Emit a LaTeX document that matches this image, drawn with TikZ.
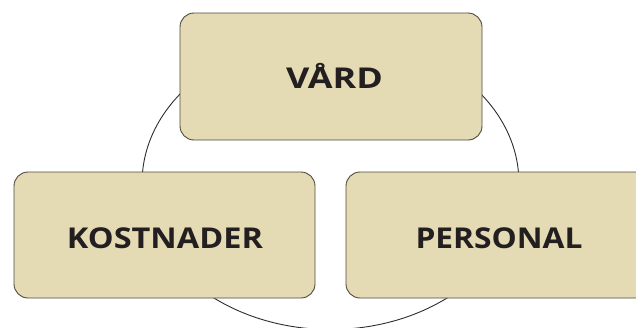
\documentclass[tikz,border=0pt]{standalone}
\usepackage{fontspec}
\usepackage{graphicx}
\setmainfont{Open Sans}
\definecolor{boxfill}{RGB}{228,219,180}
\definecolor{boxline}{RGB}{78,74,62}
\definecolor{ringline}{RGB}{45,45,45}
\definecolor{txt}{RGB}{35,31,32}
\newcommand{\wordfit}[2]{\resizebox{#1}{\height}{#2}}
\tikzset{
  catbox/.style={draw=boxline, line width=0.9pt, fill=boxfill, rounded corners=14pt, inner sep=0pt},
  cattext/.style={font=\fontsize{28.7pt}{30pt}\selectfont\bfseries, text=txt, inner sep=0pt, anchor=base},
}
\begin{document}
\begin{tikzpicture}[x=1pt,y=-1pt]
\useasboundingbox (0,0) rectangle (636,327);
\clip (0,0) rectangle (636,327);
\draw[ringline, line width=0.9pt] (330.5,182.5) ellipse [x radius=188.4pt, y radius=147pt];
\node[catbox, minimum width=302pt, minimum height=127pt] (vard) at (331,76.5) {};
\node[catbox, minimum width=301pt, minimum height=126pt] (kost) at (164.5,235) {};
\node[catbox, minimum width=305pt, minimum height=126pt] (pers) at (498.5,235) {};
\node[cattext] (vardt) at (334.5,88.3) {\wordfit{97pt}{VÅRD}};
\node[cattext] (kostt) at (165,248.3) {\wordfit{196pt}{KOSTNADER}};
\node[cattext] (perst) at (499,248.3) {\wordfit{167pt}{PERSONAL}};
\end{tikzpicture}
\end{document}
